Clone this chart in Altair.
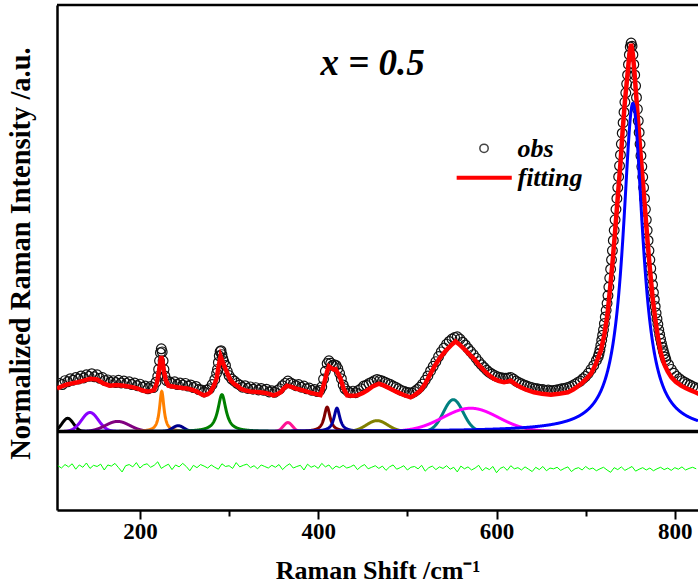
import altair as alt
import numpy as np
import pandas as pd

X_MIN, X_MAX = 107, 826
Y_MIN, Y_MAX = -0.202, 1.098
FONT = "Liberation Serif"

# observed spectrum (Raman shift, normalized intensity)
obs = [(110, .124), (113, .121), (116, .131), (119, .128), (122, .136), (125, .132), (128, .139),
       (131, .135), (134, .143), (137, .138), (140, .146), (143, .142), (146, .149), (149, .141),
       (152, .146), (155, .137), (158, .139), (161, .131), (164, .133), (167, .127), (170, .131),
       (173, .126), (176, .132), (179, .125), (182, .130), (185, .124), (188, .128), (191, .121),
       (194, .125), (197, .118), (200, .122), (203, .114), (206, .117), (209, .110), (212, .116),
       (215, .113), (218, .127), (220, .142), (221, .160), (222, .182), (223, .203), (224, .213),
       (225, .205), (226, .182), (227, .160), (228, .143), (230, .131), (233, .128), (236, .124),
       (239, .128), (242, .121), (245, .125), (248, .120), (251, .124), (254, .117), (257, .120),
       (260, .113), (263, .116), (266, .108), (269, .107), (272, .102), (275, .107), (278, .110),
       (281, .121), (284, .134), (286, .150), (287, .160), (288, .178), (289, .195), (290, .206),
       (291, .208), (292, .198), (293, .188), (294, .180), (296, .170), (298, .155), (300, .144),
       (303, .135), (306, .130), (309, .124), (312, .120), (315, .114), (318, .118), (321, .111),
       (324, .115), (327, .109), (330, .113), (333, .107), (336, .111), (339, .106), (342, .109),
       (345, .102), (348, .105), (351, .101), (354, .106), (357, .110), (360, .118), (363, .124),
       (366, .130), (369, .125), (372, .122), (375, .118), (378, .121), (381, .114), (384, .117),
       (387, .110), (390, .112), (393, .106), (396, .108), (399, .103), (402, .106), (404, .115),
       (406, .135), (408, .155), (410, .175), (412, .182), (414, .176), (416, .170), (418, .172),
       (420, .170), (422, .162), (424, .150), (426, .136), (428, .120), (430, .110), (433, .104),
       (436, .100), (439, .104), (442, .100), (445, .106), (448, .110), (451, .117), (454, .119),
       (457, .124), (460, .127), (463, .131), (466, .134), (469, .132), (472, .130), (475, .127),
       (478, .124), (481, .121), (484, .117), (487, .114), (490, .110), (493, .106), (496, .104),
       (499, .101), (502, .100), (505, .099), (508, .103), (511, .108), (514, .114), (517, .122),
       (520, .132), (523, .143), (526, .156), (529, .168), (532, .180), (535, .193), (538, .205),
       (541, .215), (544, .225), (547, .232), (550, .238), (553, .242), (556, .244), (559, .238),
       (562, .230), (565, .223), (568, .214), (571, .206), (574, .198), (577, .189), (580, .180),
       (583, .172), (586, .165), (589, .158), (592, .152), (595, .148), (598, .144), (601, .141),
       (604, .139), (607, .138), (610, .137), (613, .138), (616, .139), (619, .135), (622, .130),
       (625, .126), (628, .123), (631, .120), (634, .117), (637, .115), (640, .113), (643, .111),
       (646, .110), (649, .108), (652, .108), (655, .106), (658, .107), (661, .105), (664, .106),
       (667, .107), (670, .108), (673, .110), (676, .111), (679, .113), (682, .115), (685, .118),
       (688, .122), (691, .126), (694, .130), (697, .136), (700, .142), (703, .150), (706, .160),
       (709, .170), (712, .183), (714, .192), (715, .200), (716, .210), (717, .222), (718, .235),
       (719, .248), (720, .262), (721, .278), (722, .295), (723, .312), (724, .330), (725, .350),
       (726, .372), (727, .395), (728, .418), (729, .442), (730, .466), (731, .492), (732, .518),
       (733, .545), (734, .572), (735, .600), (736, .628), (737, .656), (738, .684), (739, .712),
       (740, .740), (741, .768), (742, .795), (743, .822), (744, .848), (745, .872), (746, .895),
       (747, .918), (748, .945), (749, .970), (750, .990), (751, 1.000), (752, .992), (753, .970),
       (754, .945), (755, .918), (756, .890), (757, .860), (758, .830), (759, .800), (760, .770),
       (761, .740), (762, .710), (763, .682), (764, .655), (765, .628), (766, .600), (767, .572),
       (768, .545), (769, .518), (770, .492), (771, .466), (772, .442), (773, .420), (774, .398),
       (775, .378), (776, .358), (777, .340), (778, .322), (779, .305), (780, .290), (781, .276),
       (782, .262), (783, .250), (784, .238), (785, .227), (786, .217), (787, .208), (788, .200),
       (789, .192), (790, .185), (793, .172), (796, .160), (799, .150), (802, .142), (805, .136),
       (808, .131), (811, .127), (814, .123), (817, .120), (820, .116), (823, .113), (826, .110)]

# fitted envelope
fit = [(107, .111), (112, .116), (118, .121), (124, .124), (130, .127), (137, .131), (144, .136),
       (152, .134), (159, .124), (166, .118), (174, .120), (182, .118), (190, .115), (197, .111),
       (204, .105), (208, .103), (212, .104), (216, .107), (219, .125), (221, .150), (222.5, .175),
       (224, .194), (225.5, .180), (227, .155), (229, .132), (232, .118), (237, .116), (242, .114),
       (248, .112), (253, .111), (259, .107), (264, .103), (268, .097), (272, .093), (276, .096),
       (279, .101), (283, .118), (286, .136), (288.5, .170), (290.5, .194), (293, .178), (296, .161),
       (299, .145), (302, .131), (306, .122), (309, .118), (313, .110), (318, .106), (324, .103),
       (331, .102), (339, .100), (345, .097), (350, .093), (354, .096), (358, .101), (361, .110),
       (365, .118), (370, .115), (376, .110), (383, .106), (391, .100), (397, .097), (402.5, .094),
       (405, .110), (408, .136), (410, .155), (412, .168), (415, .163), (417, .160), (419.5, .161),
       (422, .150), (425, .136), (428.5, .110), (432.5, .093), (438, .092), (444, .093), (450, .099),
       (455, .106), (461, .116), (468, .123), (474, .118), (481, .110), (488, .102), (496, .094),
       (503.6, .088), (509, .095), (515, .106), (520, .123), (526, .149), (531, .170), (537, .191),
       (543, .208), (548.6, .221), (554, .232), (558, .225), (563.5, .213), (569, .200), (575, .187),
       (580, .172), (586, .157), (591, .146), (597, .136), (603, .130), (608.5, .127), (613, .129),
       (616, .131), (621, .122), (627, .114), (634, .107), (642, .101), (651, .097), (661, .095),
       (670, .097), (680, .101), (686, .108), (691, .116), (696, .125), (701, .136), (706, .149),
       (711, .172), (717, .208), (721, .250), (724.6, .304), (727, .360), (730, .432), (733, .515),
       (736, .603), (739, .690), (741.5, .775), (744, .850), (747, .921), (749, .970), (751, .998),
       (753, .970), (754.6, .929), (756.5, .870), (758.4, .809), (761, .730), (764, .646),
       (767, .560), (769.6, .484), (772, .420), (775, .347), (778, .290), (781, .244), (784, .205),
       (788, .174), (792, .155), (796, .140), (801, .128), (807, .118), (812, .112), (818, .106),
       (823, .101), (827, .097)]

# residual (obs - fit), drawn offset below the baseline
resid_start, resid_step = 108, 4
resid = [-0.088, -0.094, -0.085, -0.091, -0.083, -0.097, -0.086, -0.092, -0.081, -0.095,
         -0.087, -0.090, -0.084, -0.099, -0.086, -0.089, -0.082, -0.093, -0.104, -0.088,
         -0.085, -0.091, -0.080, -0.094, -0.086, -0.083, -0.092, -0.087, -0.078, -0.095,
         -0.089, -0.084, -0.098, -0.086, -0.091, -0.082, -0.090, -0.101, -0.087, -0.093,
         -0.085, -0.089, -0.094, -0.086, -0.092, -0.097, -0.083, -0.090, -0.088, -0.095,
         -0.080, -0.091, -0.087, -0.084, -0.093, -0.088, -0.096, -0.086, -0.090, -0.094,
         -0.087, -0.092, -0.085, -0.098, -0.089, -0.083, -0.094, -0.090, -0.087, -0.099,
         -0.084, -0.092, -0.088, -0.095, -0.082, -0.091, -0.086, -0.097, -0.089, -0.093,
         -0.087, -0.094, -0.091, -0.086, -0.098, -0.090, -0.085, -0.096, -0.092, -0.088,
         -0.095, -0.089, -0.100, -0.091, -0.086, -0.097, -0.093, -0.088, -0.099, -0.092,
         -0.090, -0.096, -0.087, -0.102, -0.093, -0.089, -0.098, -0.091, -0.095, -0.088,
         -0.097, -0.092, -0.104, -0.089, -0.096, -0.091, -0.099, -0.094, -0.087, -0.101,
         -0.093, -0.098, -0.090, -0.106, -0.095, -0.091, -0.100, -0.088, -0.096, -0.093,
         -0.099, -0.091, -0.097, -0.103, -0.092, -0.098, -0.090, -0.101, -0.094, -0.096,
         -0.092, -0.100, -0.095, -0.091, -0.103, -0.096, -0.093, -0.099, -0.090, -0.097,
         -0.094, -0.101, -0.096, -0.092, -0.099, -0.105, -0.093, -0.098, -0.091, -0.100,
         -0.095, -0.090, -0.102, -0.097, -0.093, -0.099, -0.094, -0.101, -0.096, -0.092,
         -0.098, -0.094, -0.100, -0.093, -0.097, -0.091, -0.099, -0.095, -0.092, -0.096]

# fitted component peaks
peak_name = ["p1", "p2", "p3", "p4", "p5", "p6", "p7", "p8", "p9", "p10", "p11", "p12", "p13"]
peak_center = [119, 144, 175, 224.5, 243, 292, 366, 410, 421, 466, 551.5, 571, 753]
peak_height = [0.034, 0.049, 0.026, 0.103, 0.015, 0.095, 0.023, 0.063, 0.060, 0.028, 0.082, 0.060, 0.845]
peak_fwhm = [15, 22, 32, 6, 15, 11, 12, 8, 8, 28, 26, 73, 27]
peak_shape = ["G", "G", "G", "L", "G", "L", "G", "L", "L", "G", "G", "G", "L"]
peak_color = ["#000000", "#8A00FF", "#800080", "#FF8000", "#00008B", "#008000", "#FF1493",
              "#800000", "#0000A0", "#808000", "#008080", "#FF00FF", "#0000FF"]

# ---------------- build tables ----------------
obs_df = pd.DataFrame(obs, columns=["x", "y"])
fit_df = pd.DataFrame(fit, columns=["x", "y"])
res_df = pd.DataFrame({"x": resid_start + resid_step * np.arange(len(resid)), "y": resid})

rows = []
for n, c, h, w, s in zip(peak_name, peak_center, peak_height, peak_fwhm, peak_shape):
    if s == "L":
        lo, hi = max(X_MIN, c - 25 * w), min(X_MAX, c + 25 * w)
        xs = np.arange(lo, hi + 0.01, 0.25)
        ys = h / (1 + ((xs - c) / (w / 2)) ** 2)
    else:
        lo, hi = max(X_MIN, c - 3 * w), min(X_MAX, c + 3 * w)
        xs = np.arange(lo, hi + 0.01, 0.25)
        ys = h * np.exp(-4 * np.log(2) * ((xs - c) / w) ** 2)
    rows.append(pd.DataFrame({"x": xs, "y": ys, "peak": n}))
comp_df = pd.concat(rows, ignore_index=True)

xaxis = alt.Axis(
    values=[200, 300, 400, 500, 600, 700, 800],
    labelExpr="datum.value % 200 === 0 ? datum.label : ''",
    tickSize={"condition": {"test": "datum.value % 200 === 0", "value": 9}, "value": 6},
    tickWidth=2, tickColor="black", domainColor="black", domainWidth=2.5,
    labelFont=FONT, labelFontSize=23, labelFontWeight="bold", labelColor="black",
    labelPadding=1, grid=False,
    title="Raman Shift /cm⁻¹", titleFont=FONT, titleFontSize=26, titleFontWeight="bold",
    titleColor="black", titleY=68, titleAlign="center", titleBaseline="alphabetic",
)
yaxis = alt.Axis(
    labels=False, ticks=False, grid=False, domainColor="black", domainWidth=2.5,
    title="Normalized Raman Intensity /a.u.", titleFont=FONT, titleFontSize=28.5,
    titleFontWeight="bold", titleColor="black", titleAngle=270, titleX=-37, titleY=248,
    titleAlign="center", titleBaseline="middle",
)
xs_ = alt.Scale(domain=[X_MIN, X_MAX], nice=False, zero=False)
ys_ = alt.Scale(domain=[Y_MIN, Y_MAX], nice=False, zero=False)
X = alt.X("x:Q", scale=xs_, axis=xaxis)
Y = alt.Y("y:Q", scale=ys_, axis=yaxis)

obs_layer = alt.Chart(obs_df).mark_point(
    shape="circle", filled=False, size=95, strokeWidth=1.2, color="#111111", opacity=1, clip=True
).encode(x=X, y=Y)

comp_layer = alt.Chart(comp_df).mark_line(strokeWidth=3, clip=True).encode(
    x=X, y=Y,
    color=alt.Color("peak:N", scale=alt.Scale(domain=peak_name, range=peak_color), legend=None),
    order="x:Q",
)

fit_layer = alt.Chart(fit_df).mark_line(color="#FF0000", strokeWidth=4.5, clip=True).encode(x=X, y=Y)

res_layer = alt.Chart(res_df).mark_line(color="#00FF00", strokeWidth=1, clip=True).encode(x=X, y=Y)

base_layer = alt.Chart(pd.DataFrame({"v": [0]})).mark_rule(color="black", strokeWidth=3.5).encode(
    y=alt.Y("v:Q", scale=ys_, axis=yaxis), x=alt.value(0), x2=alt.value(641)
)

top_border = alt.Chart(pd.DataFrame({"v": [0]})).mark_rule(color="black", strokeWidth=2.5).encode(
    x=alt.value(0), x2=alt.value(641), y=alt.value(0)
)

# annotation + legend, placed in data coordinates
label_df = pd.DataFrame({"x": [402.5], "y": [0.918], "t": ["x = 0.5"]})
label_layer = alt.Chart(label_df).mark_text(
    font=FONT, fontSize=37, fontWeight="bold", fontStyle="italic", align="left",
    baseline="alphabetic", color="black"
).encode(x=X, y=Y, text="t:N")

leg_sym = alt.Chart(pd.DataFrame({"x": [586], "y": [0.729]})).mark_point(
    shape="circle", filled=False, size=70, strokeWidth=1.5, color="#444444", opacity=1
).encode(x=X, y=Y)
leg_line = alt.Chart(pd.DataFrame({"x": [555.3, 617.1], "y": [0.653, 0.653]})).mark_line(
    color="#FF0000", strokeWidth=4
).encode(x=X, y=Y)
leg_text = alt.Chart(pd.DataFrame({"x": [623.5, 623.5], "y": [0.707, 0.631], "t": ["obs", "fitting"]})).mark_text(
    font=FONT, fontSize=26, fontWeight="bold", fontStyle="italic", align="left",
    baseline="alphabetic", color="black"
).encode(x=X, y=Y, text="t:N")

chart = alt.layer(
    obs_layer, fit_layer, comp_layer, base_layer, res_layer, top_border,
    label_layer, leg_sym, leg_line, leg_text
).properties(
    width=641, height=505,
    padding={"left": 57, "top": 5, "right": 0, "bottom": 75},
    autosize=alt.AutoSizeParams(type="none"),
    background="white",
).configure_view(stroke=None)

chart.save("out.html", embed_options={"renderer": "svg", "actions": False})
